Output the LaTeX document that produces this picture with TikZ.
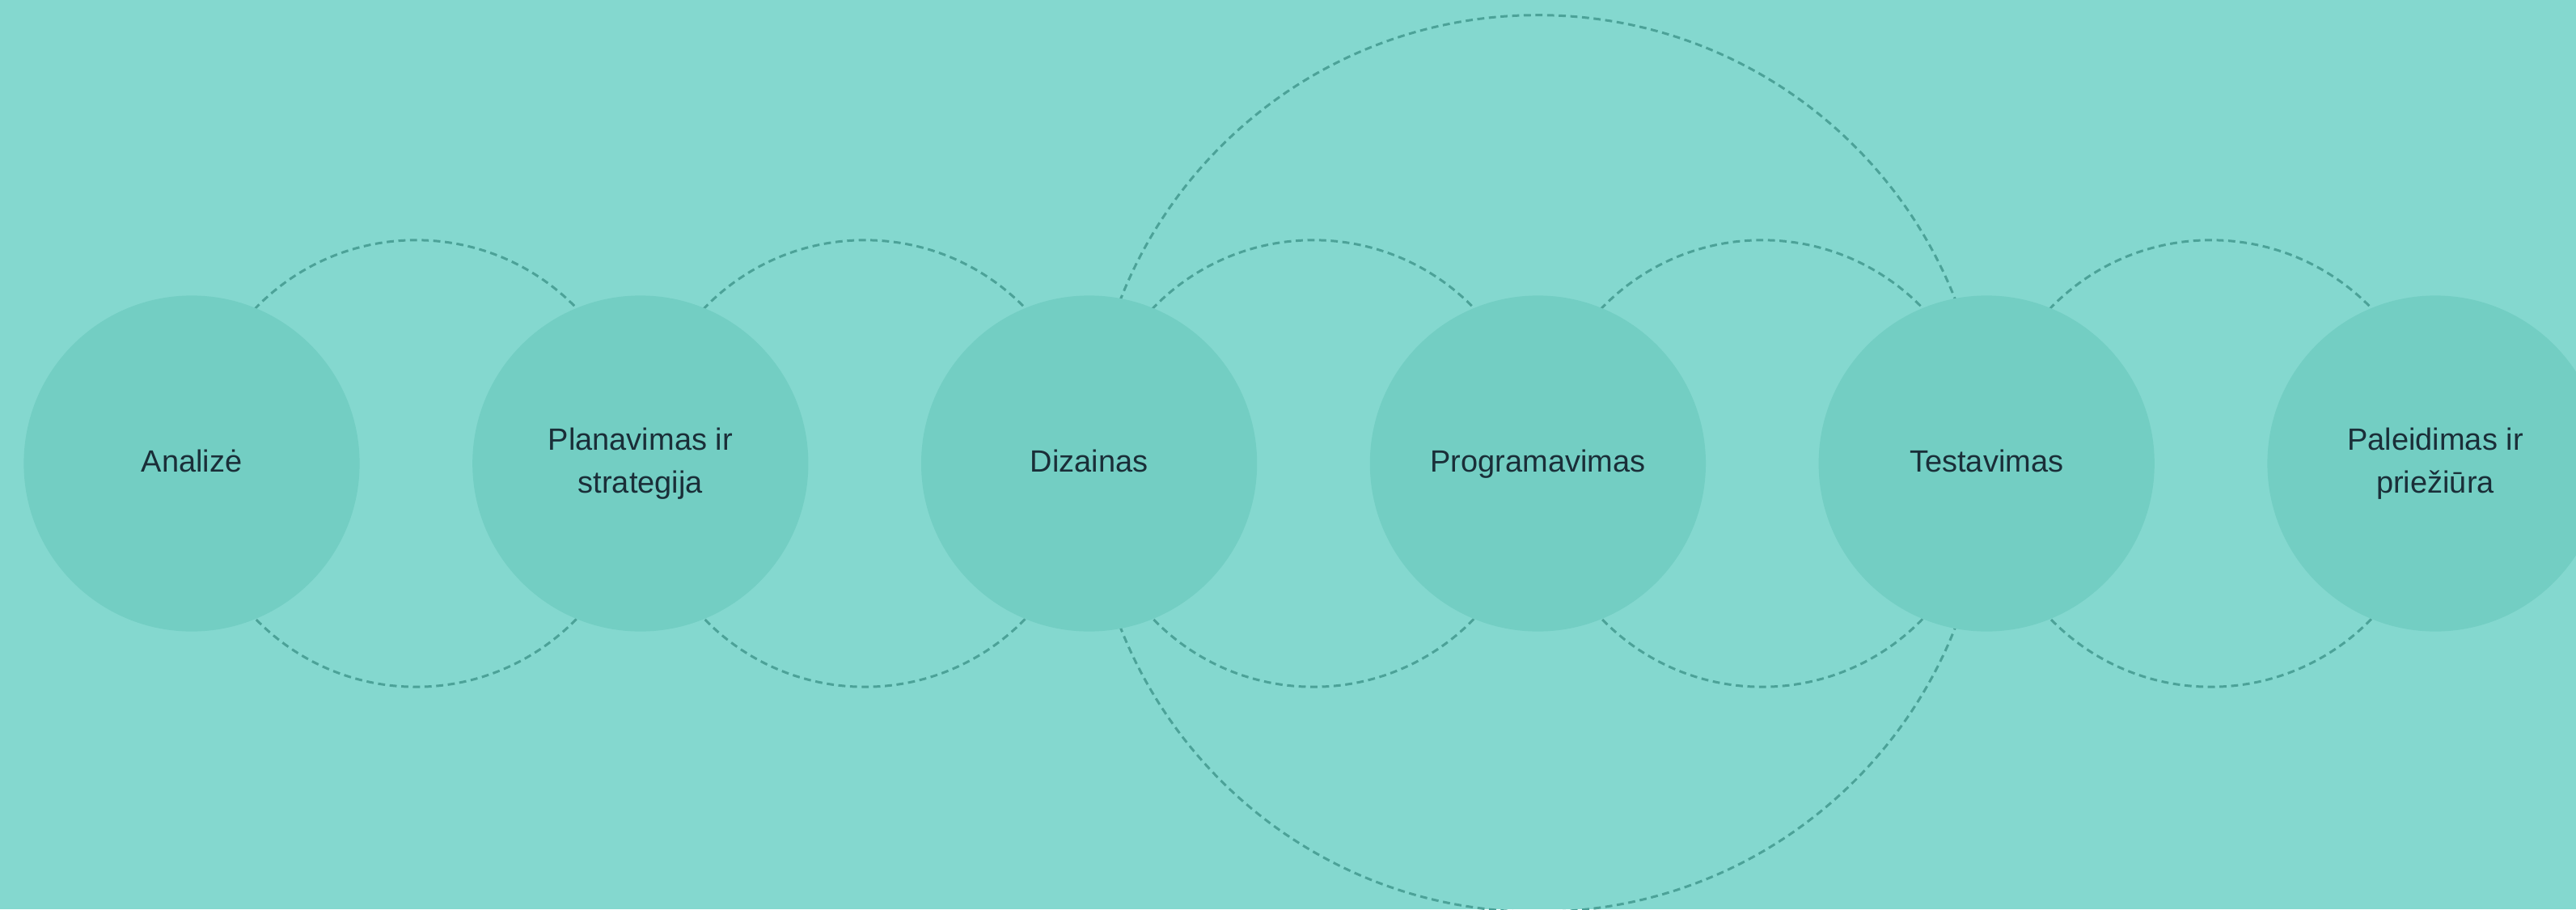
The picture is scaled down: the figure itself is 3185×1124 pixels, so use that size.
\documentclass[tikz,border=0pt]{standalone}
\usepackage{fontspec}
\setmainfont{Liberation Sans}
\usetikzlibrary{calc}
\definecolor{bgc}{HTML}{84D8CF}
\definecolor{discc}{HTML}{73CEC3}
\definecolor{dashc}{HTML}{4CA298}
\definecolor{txtc}{HTML}{1A2E38}
\tikzset{
  stage/.style={circle, fill=discc, minimum size=4.15cm, inner sep=0pt, text=txtc, align=center,
    font=\fontsize{10.8pt}{15pt}\selectfont},
  oneline/.style={text height=7.7pt, text depth=2pt},
  dashring/.style={draw=dashc, line width=0.85pt, dash pattern=on 2.5pt off 1.6pt}
}
\begin{document}
\begin{tikzpicture}[x=0.01cm,y=-0.01cm]
\useasboundingbox (0,0) rectangle (3185,1124);
\clip (0,0) rectangle (3185,1124);
\fill[bgc] (0,0) rectangle (3185,1124);
\coordinate (p1) at (237,573);
\coordinate (p2) at (791.8,573);
\coordinate (p3) at (1346.6,573);
\coordinate (p4) at (1901.4,573);
\coordinate (p5) at (2456.2,573);
\coordinate (p6) at (3011,573);
\draw[dashring] ($(p1)!0.5!(p2)$) circle (2.76cm);
\draw[dashring] ($(p2)!0.5!(p3)$) circle (2.76cm);
\draw[dashring] ($(p3)!0.5!(p4)$) circle (2.76cm);
\draw[dashring] ($(p4)!0.5!(p5)$) circle (2.76cm);
\draw[dashring] ($(p5)!0.5!(p6)$) circle (2.76cm);
\draw[dashring] (p4) circle (5.54cm);
\node[stage,oneline] (s1) at (p1) {Analizė};
\node[stage] (s2) at (p2) {Planavimas ir\\strategija};
\node[stage,oneline] (s3) at (p3) {Dizainas};
\node[stage,oneline] (s4) at (p4) {Programavimas};
\node[stage,oneline] (s5) at (p5) {Testavimas};
\node[stage] (s6) at (p6) {Paleidimas ir\\priežiūra};
\end{tikzpicture}
\end{document}
